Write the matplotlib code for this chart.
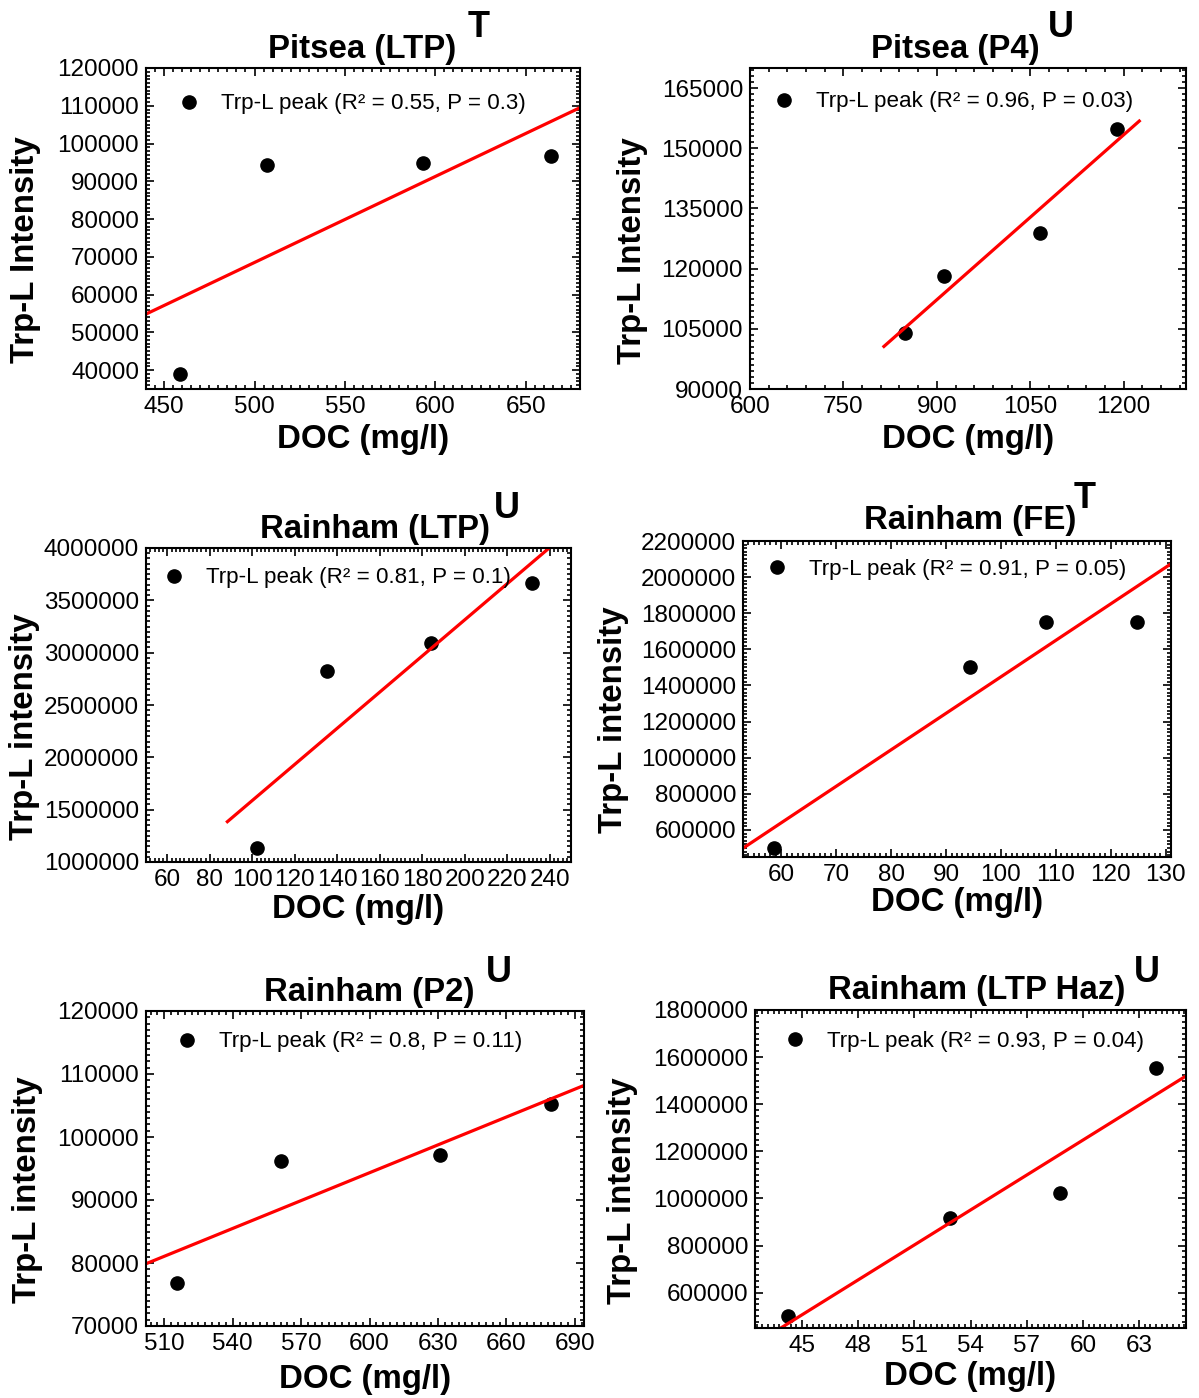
import numpy as np
import matplotlib
matplotlib.use("Agg")
import matplotlib.pyplot as plt
from matplotlib.ticker import AutoMinorLocator

plt.rcParams['font.family'] = ['Liberation Sans', 'DejaVu Sans']

# Site names, significance letters and legend stats
titles = ['Pitsea (LTP)', 'Pitsea (P4)', 'Rainham (LTP)',
          'Rainham (FE)', 'Rainham (P2)', 'Rainham (LTP Haz)']
letters = ['T', 'U', 'U', 'T', 'U', 'U']
r2 = ['0.55', '0.96', '0.81', '0.91', '0.8', '0.93']
pval = ['0.3', '0.03', '0.1', '0.05', '0.11', '0.04']
ylabels = ['Trp-L Intensity', 'Trp-L Intensity', 'Trp-L intensity',
           'Trp-L intensity', 'Trp-L intensity', 'Trp-L intensity']

# DOC (mg/l) vs Trp-L peak intensity
doc_pitsea_ltp = [459, 507, 593, 664]
trp_pitsea_ltp = [38900, 94200, 94900, 96800]
doc_pitsea_p4 = [849, 912, 1065, 1190]
trp_pitsea_p4 = [103900, 118200, 129000, 154900]
doc_rainham_ltp = [102, 135, 184, 231.5]
trp_rainham_ltp = [1130000, 2825000, 3092000, 3662000]
doc_rainham_fe = [58.6, 94.3, 108.3, 124.8]
trp_rainham_fe = [500000, 1500000, 1754000, 1754000]
doc_rainham_p2 = [515.5, 561, 631, 679.5]
trp_rainham_p2 = [76900, 96200, 97100, 105200]
doc_rainham_haz = [44.25, 52.9, 58.8, 63.9]
trp_rainham_haz = [501000, 915000, 1023000, 1555000]

doc = [doc_pitsea_ltp, doc_pitsea_p4, doc_rainham_ltp,
       doc_rainham_fe, doc_rainham_p2, doc_rainham_haz]
trp = [trp_pitsea_ltp, trp_pitsea_p4, trp_rainham_ltp,
       trp_rainham_fe, trp_rainham_p2, trp_rainham_haz]

# x-range over which each regression line is drawn
fit_range = [(440, 680), (815, 1225), (88.3, 240), (53, 131), (502, 694), (43, 65.5)]

# axis limits and tick steps
xlims = [(440, 680), (600, 1300), (50, 250), (53, 131), (502, 694), (42.5, 65.5)]
ylims = [(35000, 120000), (90000, 170000), (1e6, 4e6), (450000, 2200000),
         (70000, 120000), (450000, 1800000)]
xstart = [450, 600, 60, 60, 510, 45]
xstep = [50, 150, 20, 10, 30, 3]
ystart = [40000, 90000, 1e6, 600000, 70000, 600000]
ystep = [10000, 15000, 500000, 200000, 10000, 200000]
xminor = [10, 5, 10, 10, 10, 10]
yminor = [10, 10, 10, 10, 10, 8]

# layout: axes boxes in pixels (left, top, right, bottom)
W, H = 1199, 1398
boxes = [(146, 68, 580, 389), (750, 68, 1186, 389),
         (146, 548, 571, 862), (743, 541, 1171, 857),
         (146, 1011, 584, 1326), (755, 1010, 1186, 1328)]
title_x = [0.498, 0.472, 0.539, 0.530, 0.509, 0.515]
title_up = [10, 10, 10, 12, 10, 11]
letter_x = [0.767, 0.713, 0.849, 0.799, 0.806, 0.9095]
letter_up = [31, 31, 30, 33, 29, 28]
ylab_dx = [-120, -117, -121, -130, -118, -132]
ylab_y = [0.433, 0.430, 0.430, 0.434, 0.432, 0.431]
xlab_dy = [41, 41, 38, 36, 44, 39]
leg_pos = [(43, 36), (34, 34), (28, 30), (34, 28), (41, 31), (40, 31)]

fig = plt.figure(figsize=(W / 100, H / 100), dpi=100)

for i in range(6):
    l, t, r, b = boxes[i]
    w, h = r - l, b - t
    ax = fig.add_axes([l / W, 1 - b / H, w / W, h / H])

    ax.plot(doc[i], trp[i], 'o', color='black', markersize=9.5, linestyle='none',
            label='Trp-L peak (R\u00b2 = %s, P = %s)' % (r2[i], pval[i]))
    k, c = np.polyfit(doc[i], trp[i], 1)
    xf = np.array(fit_range[i])
    ax.plot(xf, k * xf + c, color='red', linewidth=2.3)

    ax.set_xlim(*xlims[i])
    ax.set_ylim(*ylims[i])
    ax.set_xticks(np.arange(xstart[i], xlims[i][1] + 1e-9, xstep[i]))
    ax.set_yticks(np.arange(ystart[i], ylims[i][1] + 1e-9, ystep[i]))
    ax.xaxis.set_minor_locator(AutoMinorLocator(xminor[i]))
    ax.yaxis.set_minor_locator(AutoMinorLocator(yminor[i]))
    ax.tick_params(which='both', direction='in', top=True, right=True,
                   labelsize=17.5, width=1.2)
    ax.tick_params(which='major', length=6, pad=5)
    ax.tick_params(which='minor', length=3)
    for s in ax.spines.values():
        s.set_linewidth(1.5)
    ax.ticklabel_format(useOffset=False, style='plain')

    ax.set_xlabel('DOC (mg/l)', fontsize=23.8, fontweight='bold')
    ax.xaxis.set_label_coords(0.5, -(xlab_dy[i] - 6) / h)
    ax.set_ylabel(ylabels[i], fontsize=23.8, fontweight='bold')
    ax.yaxis.label.set_va('center')
    ax.yaxis.set_label_coords(ylab_dx[i] / w, ylab_y[i])

    ax.text(title_x[i], 1 + title_up[i] / h, titles[i], transform=ax.transAxes,
            ha='center', va='baseline', fontsize=23.8, fontweight='bold')
    ax.text(letter_x[i], 1 + letter_up[i] / h, letters[i], transform=ax.transAxes,
            ha='center', va='baseline', fontsize=26, fontweight='bold')

    fs = 16.1
    fs_px = fs * 100 / 72
    mx, my = leg_pos[i]
    ax.legend(loc='center left', frameon=False, fontsize=fs,
              bbox_to_anchor=((mx - 0.5 * fs_px) / w, 1 - my / h),
              borderpad=0, borderaxespad=0, handlelength=1.0,
              handletextpad=(32 - 0.5 * fs_px) / fs_px, numpoints=1)

fig.savefig('out.png', dpi=100)
